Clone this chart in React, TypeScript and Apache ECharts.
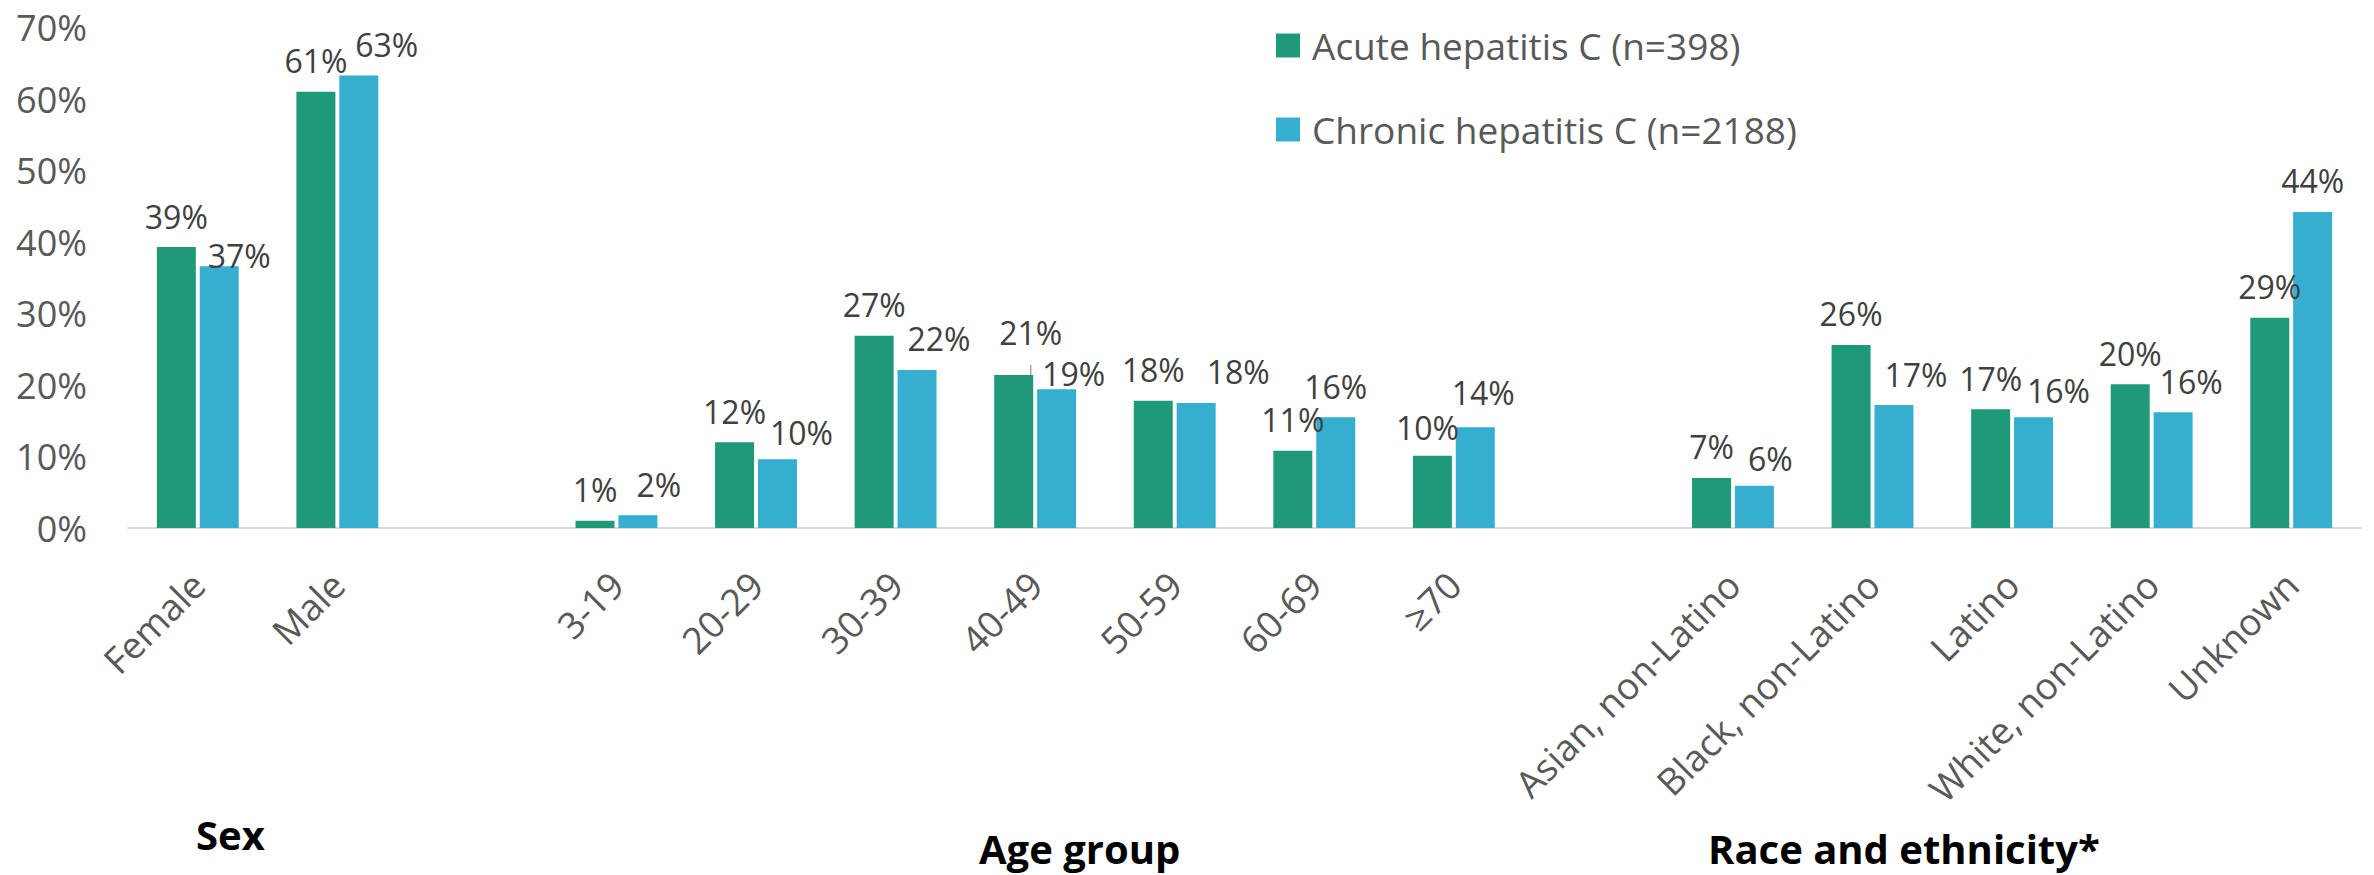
import React, { useEffect, useRef } from "react";
import * as echarts from "echarts";

const categories = [
  "Female", "Male", "",
  "3-19", "20-29", "30-39", "40-49", "50-59", "60-69", "≥70", " ",
  "Asian, non-Latino", "Black, non-Latino", "Latino", "White, non-Latino", "Unknown",
];
const acuteName = "Acute hepatitis C (n=398)";
const chronicName = "Chronic hepatitis C (n=2188)";
const acuteValues = [39.3, 61.0, null, 1.0, 12.0, 26.9, 21.4, 17.8, 10.8, 10.1, null, 7.0, 25.6, 16.6, 20.1, 29.4];
const chronicValues = [36.6, 63.3, null, 1.8, 9.6, 22.1, 19.4, 17.5, 15.5, 14.1, null, 5.9, 17.2, 15.5, 16.2, 44.2];
const yTicks = { min: 0, max: 70, interval: 10 };
const groupTitles = ["Sex", "Age group", "Race and ethnicity*"];

// label placement tweaks (style only), per category index
const chronicLabelDx = [20, 28, 0, 21, 24, 22, 17, 42, 0, 8, 0, 16, 22, 25, 18, 0];
const chronicLabelDy = [20, 0, 0, 0, 4, 0, 15, 0, 0, -4, 0, 4, 0, 4, 0, 0];
const acuteLabelDx = [0, 0, 0, 0, 0, 0, 17, 0, 0, -5, 0, 0, 0, 0, 0, 0];
const acuteLabelDy = [0, 0, 0, 0, 0, 0, -11, 0, 0, 3, 0, 0, 0, 0, 0, 0];

const GREEN = "#1e9a78";
const BLUE = "#36aecf";
const FONT = "'Open Sans', 'Noto Sans', sans-serif";

export default function App() {
  const ref = useRef<HTMLDivElement>(null);
  useEffect(() => {
    if (!ref.current) return;
    const chart = echarts.init(ref.current, null, { renderer: "svg" });
    const labelFmt = (p: any) => (p.value == null ? "" : Math.round(p.value) + "%");
    const mk = (vals: (number | null)[], dx: number[], dy: number[], withLine: boolean) =>
      vals.map((v, i) => {
        if (v == null) return null;
        const item: any = { value: v };
        if (dx[i] || dy[i]) item.label = { offset: [dx[i], dy[i]] };
        if (withLine && i === 6) {
          item.labelLine = { show: true, lineStyle: { color: "#a6a6a6", width: 1.5 } };
        }
        return item;
      });
    const titleStyle = (t: string) => ({
      text: t,
      font: `bold 40px ${FONT}`,
      lineHeight: 40,
      fill: "#000",
    });
    chart.setOption({
      animation: false,
      backgroundColor: "#ffffff",
      textStyle: { fontFamily: FONT },
      grid: { left: 128, right: 13, top: 27.5, bottom: 347, containLabel: false },
      legend: {
        orient: "vertical",
        left: 1276,
        top: 27,
        padding: 0,
        itemWidth: 24,
        itemHeight: 24,
        itemGap: 47,
        icon: "rect",
        textStyle: { fontSize: 37, color: "#595959", fontFamily: FONT, padding: [0, 0, 0, 7] },
        data: [acuteName, chronicName],
      },
      xAxis: {
        type: "category",
        data: categories,
        axisTick: { show: false },
        axisLine: { lineStyle: { color: "#d9d9d9", width: 2 } },
        axisLabel: {
          interval: 0,
          rotate: 45,
          margin: 50,
          verticalAlign: "middle",
          fontSize: 37,
          color: "#595959",
          fontFamily: FONT,
        },
      },
      yAxis: {
        type: "value",
        min: yTicks.min,
        max: yTicks.max,
        interval: yTicks.interval,
        axisLine: { show: false },
        axisTick: { show: false },
        splitLine: { show: false },
        axisLabel: {
          formatter: (v: number) => v + "%",
          fontSize: 36,
          color: "#595959",
          margin: 41,
          fontFamily: FONT,
        },
      },
      graphic: [
        { type: "text", left: 196, top: 814, style: titleStyle(groupTitles[0]) },
        { type: "text", left: 979, top: 828, style: titleStyle(groupTitles[1]) },
        { type: "text", left: 1708, top: 828, style: titleStyle(groupTitles[2]) },
      ],
      series: [
        {
          name: acuteName,
          type: "bar",
          barWidth: 39,
          barGap: "10%",
          itemStyle: { color: GREEN },
          label: { show: true, position: "top", distance: 15, fontSize: 32, color: "#404040", fontFamily: FONT, formatter: labelFmt },
          data: mk(acuteValues, acuteLabelDx, acuteLabelDy, true),
        },
        {
          name: chronicName,
          type: "bar",
          barWidth: 39,
          barGap: "10%",
          itemStyle: { color: BLUE },
          label: { show: true, position: "top", distance: 15, fontSize: 32, color: "#404040", fontFamily: FONT, formatter: labelFmt },
          data: mk(chronicValues, chronicLabelDx, chronicLabelDy, false),
        },
      ],
    });
    return () => chart.dispose();
  }, []);
  return (
    <div
      ref={ref}
      style={{ position: "absolute", left: 0, top: 0, width: 2374, height: 875, background: "#fff" }}
    />
  );
}
